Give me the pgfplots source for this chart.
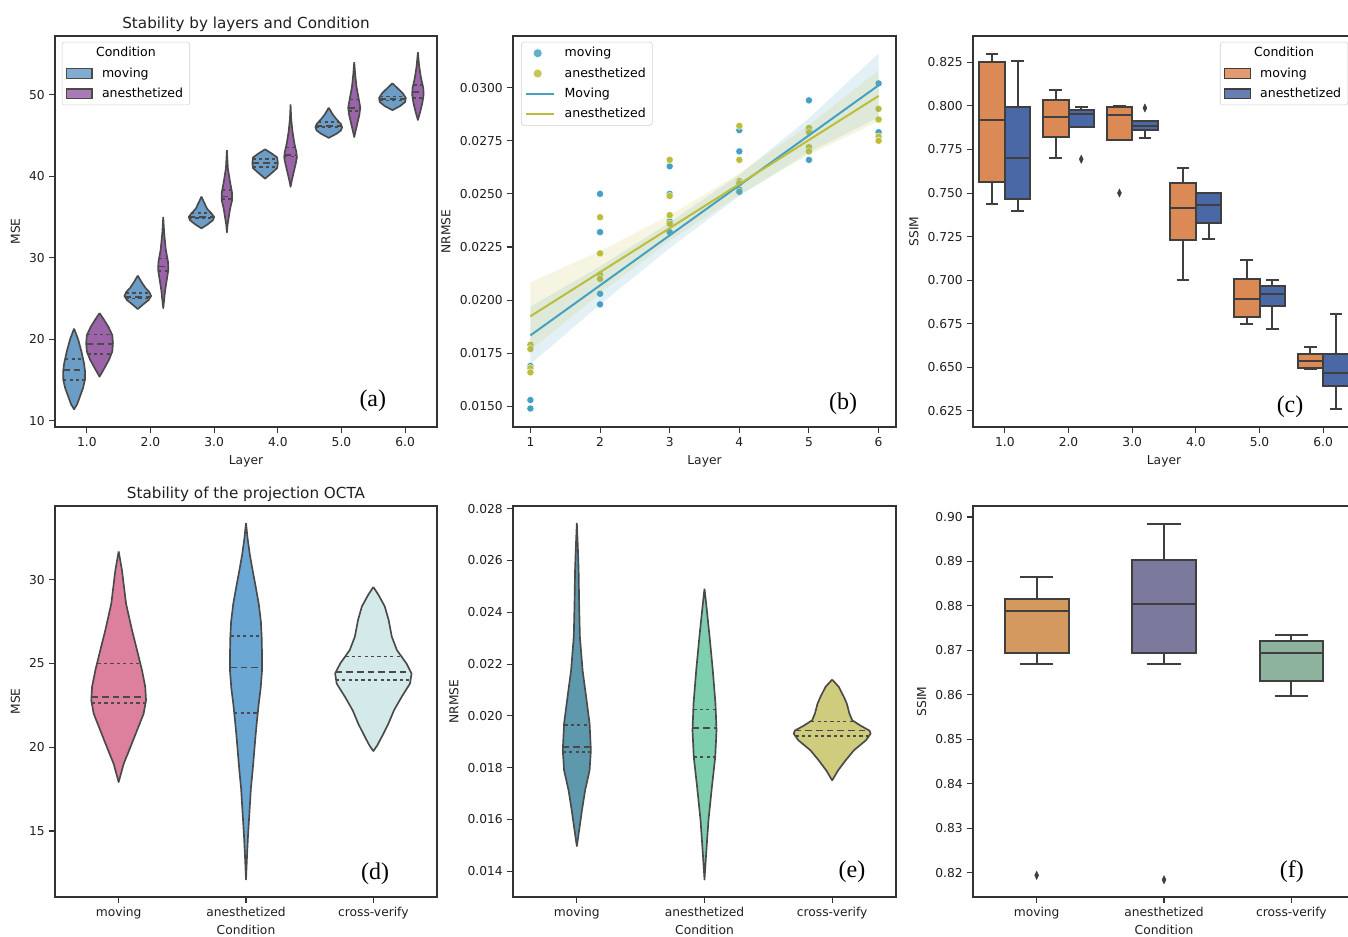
\documentclass[border=0pt]{standalone}
\usepackage{pgfplots}
\pgfplotsset{compat=1.18}
\usepgfplotslibrary{statistics}
\usepackage{fontspec}
\setmainfont{DejaVu Sans}
\newfontfamily\panelfont{Liberation Serif}

\definecolor{vmov}{HTML}{6C9DC7}
\definecolor{vane}{HTML}{9B63A8}
\definecolor{vedge}{HTML}{4A4A4A}
\definecolor{bblue}{HTML}{45A1C3}
\definecolor{bolive}{HTML}{BCBD3A}
\definecolor{corange}{HTML}{DC8A55}
\definecolor{cblue}{HTML}{4B68A6}
\definecolor{bedge}{HTML}{3F3F3F}
\definecolor{dpink}{HTML}{DC809D}
\definecolor{dblue}{HTML}{6BA7D4}
\definecolor{dpale}{HTML}{D4E9E9}
\definecolor{eteal}{HTML}{5E98AC}
\definecolor{emint}{HTML}{7DCFAF}
\definecolor{eolive}{HTML}{CFCC7D}
\definecolor{forange}{HTML}{D4995F}
\definecolor{fpurple}{HTML}{7B799C}
\definecolor{fgreen}{HTML}{8DB39E}

% violin: #1 centre, #2 style, #3 list of value/half-width (top to bottom)
\newcommand\violin[3]{%
  \gdef\vR{}\gdef\vL{}%
  \foreach \vv/\ww in {#3}{%
    \pgfmathsetmacro\vxr{#1+\ww}%
    \pgfmathsetmacro\vxl{#1-\ww}%
    \xdef\vR{\vR(\vxr,\vv)}%
    \xdef\vL{(\vxl,\vv)\vL}%
  }%
  \edef\tmp{\noexpand\addplot[\unexpanded{#2},forget plot] coordinates {\vR\vL};}\tmp
}
% quartile line: #1 centre, #2 value, #3 half-width, #4 style
\newcommand\qline[4]{%
  \pgfmathsetmacro\vxr{#1+#3}\pgfmathsetmacro\vxl{#1-#3}%
  \edef\tmp{\noexpand\addplot[\unexpanded{#4},forget plot] coordinates {(\vxl,#2) (\vxr,#2)};}\tmp
}
% box: pos, lower whisker, q1, median, q3, upper whisker, fill, box extend, whisker extend
\newcommand\bx[9]{%
  \addplot[boxplot prepared={draw position=#1, lower whisker=#2, lower quartile=#3,
    median=#4, upper quartile=#5, upper whisker=#6, box extend=#8, whisker extend=#9,
    every box/.style={draw=bedge, fill=#7, line width=1.5pt},
    every whisker/.style={draw=bedge, line width=1.5pt},
    every median/.style={draw=bedge, line width=1.5pt}},
    fill=#7, draw=bedge, line width=1.5pt, forget plot] coordinates {};
}
\newcommand\patch[2]{\addlegendimage{legend image code/.code={\draw[sharp corners,fill=#1,draw=#2,line width=0.9pt] (0pt,-3.6pt) rectangle (19pt,3.6pt);}}}

\tikzset{lab/.style={font=\panelfont\fontsize{18}{20}\selectfont}}
\pgfplotsset{
  panel/.style={
    scale only axis, width=286.5pt, height=293.25pt, anchor=south west,
    axis line style={draw=black!80, line width=0.8pt},
    tick align=outside, tick pos=left, major tick length=4.2pt,
    every tick/.style={draw=black!80, line width=0.8pt},
    ticklabel style={font=\fontsize{9.2}{11}\selectfont, text=black!88},
    label style={font=\fontsize{9.2}{11}\selectfont, text=black!88},
    title style={font=\fontsize{11.4}{13}\selectfont, text=black!88, yshift=-6pt},
    /pgf/number format/assume math mode=true,
    scaled ticks=false, clip mode=individual,
    legend cell align=left,
    legend style={font=\fontsize{9.4}{11}\selectfont, draw=black!18, rounded corners=2pt,
      fill=white, fill opacity=0.85, text opacity=1, inner xsep=3pt, inner ysep=2pt,
      row sep=2.6pt, column sep=5pt},
  },
  vstyle/.style={fill=#1, draw=vedge, line width=1.25pt, line join=round},
  qd/.style={draw=vedge, line width=1.2pt, dash pattern=on 2.4pt off 2.4pt},
  md/.style={draw=vedge, line width=1.2pt, dash pattern=on 5pt off 3pt},
  linelegend/.style={legend image code/.code={\draw[sharp corners,##1] (0pt,0pt) -- (21pt,0pt);}},
}

\begin{document}
\begin{tikzpicture}
\path[use as bounding box] (0,0) rectangle (1011pt,702.75pt);
\clip (0,0) rectangle (1011pt,702.75pt);

% ---------------- (a)
\begin{axis}[panel, at={(41.25pt,382.5pt)}, xmin=-0.5, xmax=5.5, ymin=9.23, ymax=57.2,
  xtick={0,1,2,3,4,5}, xticklabels={1.0,2.0,3.0,4.0,5.0,6.0}, ytick={10,20,30,40,50},
  xlabel={Layer}, ylabel={MSE}, title={Stability by layers and Condition},
  legend style={at={(0.018,0.985)}, anchor=north west}]
\addlegendimage{empty legend}\addlegendentry{\hspace{-4.5pt}Condition}
\patch{vmov}{vedge}\addlegendentry{moving}
\patch{vane}{vedge}\addlegendentry{anesthetized}

\violin{-0.2}{vstyle=vmov}{21.3/0, 20/0.063, 18.5/0.115, 17/0.157, 16/0.173, 15/0.17, 14/0.14, 13/0.094, 12/0.047, 11.4/0}
\qline{-0.2}{17.6}{0.14}{qd}\qline{-0.2}{16.2}{0.172}{md}\qline{-0.2}{15.0}{0.17}{qd}
\violin{0.2}{vstyle=vane}{23.2/0, 22.5/0.06, 21.5/0.14, 20.5/0.2, 19.5/0.21, 18.5/0.2, 17.5/0.15, 16.5/0.08, 15.4/0}
\qline{0.2}{20.6}{0.195}{qd}\qline{0.2}{19.4}{0.21}{md}\qline{0.2}{18.2}{0.19}{qd}

\violin{0.8}{vstyle=vmov}{27.8/0, 27/0.06, 26.3/0.12, 25.8/0.18, 25.3/0.21, 24.8/0.17, 24.3/0.09, 23.7/0}
\qline{0.8}{25.7}{0.185}{qd}\qline{0.8}{25.2}{0.205}{md}\qline{0.8}{25.0}{0.19}{qd}
\violin{1.2}{vstyle=vane}{35/0, 33/0.015, 31/0.04, 29.5/0.075, 28.5/0.08, 27.5/0.06, 26/0.03, 24.5/0.01, 23.8/0}
\qline{1.2}{29.9}{0.068}{qd}\qline{1.2}{28.9}{0.08}{md}\qline{1.2}{28.4}{0.079}{qd}

\violin{1.8}{vstyle=vmov}{37.5/0, 36.8/0.04, 36/0.09, 35.4/0.16, 35/0.2, 34.6/0.18, 34.1/0.1, 33.6/0}
\qline{1.8}{35.45}{0.16}{qd}\qline{1.8}{35.0}{0.2}{md}\qline{1.8}{34.9}{0.195}{qd}
\violin{2.2}{vstyle=vane}{43.2/0, 41/0.015, 39.5/0.045, 38/0.08, 37/0.08, 36/0.05, 35/0.03, 34/0.01, 33.1/0}
\qline{2.2}{38.3}{0.073}{qd}\qline{2.2}{37.5}{0.08}{md}\qline{2.2}{37.2}{0.08}{qd}

\violin{2.8}{vstyle=vmov}{43.3/0, 42.8/0.1, 42.3/0.19, 41.6/0.2, 41/0.19, 40.5/0.12, 39.7/0}
\qline{2.8}{42.1}{0.195}{qd}\qline{2.8}{41.6}{0.2}{md}\qline{2.8}{41.1}{0.19}{qd}
\violin{3.2}{vstyle=vane}{48.8/0, 47/0.01, 45.5/0.03, 44/0.06, 43/0.09, 42.3/0.1, 41.5/0.08, 40.5/0.05, 39.5/0.02, 38.7/0}
\qline{3.2}{43.5}{0.075}{qd}\qline{3.2}{42.6}{0.096}{md}\qline{3.2}{42.4}{0.1}{qd}

\violin{3.8}{vstyle=vmov}{48.4/0, 47.6/0.06, 47/0.12, 46.4/0.19, 46/0.21, 45.6/0.19, 45.2/0.12, 44.7/0}
\qline{3.8}{46.65}{0.165}{qd}\qline{3.8}{46.15}{0.205}{md}\qline{3.8}{46.0}{0.21}{qd}
\violin{4.2}{vstyle=vane}{54/0, 52.5/0.015, 51/0.035, 49.5/0.07, 48.4/0.095, 47.5/0.08, 46.5/0.05, 45.5/0.02, 44.8/0}
\qline{4.2}{49.4}{0.072}{qd}\qline{4.2}{48.4}{0.095}{md}\qline{4.2}{48.0}{0.09}{qd}

\violin{4.8}{vstyle=vmov}{51.4/0, 50.8/0.08, 50.2/0.16, 49.6/0.21, 49.1/0.2, 48.6/0.12, 48.1/0}
\qline{4.8}{49.8}{0.195}{qd}\qline{4.8}{49.5}{0.21}{md}\qline{4.8}{49.3}{0.205}{qd}
\violin{5.2}{vstyle=vane}{55.2/0, 53.5/0.02, 52/0.05, 50.8/0.085, 50/0.09, 49/0.07, 48/0.04, 46.9/0}
\qline{5.2}{51.2}{0.072}{qd}\qline{5.2}{50.3}{0.088}{md}\qline{5.2}{49.6}{0.083}{qd}

\node[lab] at (rel axis cs:0.832,0.066) {(a)};
\end{axis}

% ---------------- (b)
\begin{axis}[panel, width=287.25pt, at={(384.75pt,382.5pt)}, xmin=0.75, xmax=6.25, ymin=0.01403, ymax=0.03243,
  xtick={1,2,3,4,5,6},
  ytick={0.015,0.0175,0.02,0.0225,0.025,0.0275,0.03},
  yticklabels={0.0150,0.0175,0.0200,0.0225,0.0250,0.0275,0.0300},
  xlabel={Layer}, ylabel={NRMSE},
  legend style={at={(0.021,0.985)}, anchor=north west}]
\addlegendimage{only marks, mark=*, mark size=3.3pt, color=bblue, mark options={draw=white, line width=0.3pt}}\addlegendentry{moving}
\addlegendimage{only marks, mark=*, mark size=3.3pt, color=bolive, mark options={draw=white, line width=0.3pt}}\addlegendentry{anesthetized}
\addlegendimage{linelegend, color=bblue, line width=1.5pt}\addlegendentry{Moving}
\addlegendimage{linelegend, color=bolive, line width=1.5pt}\addlegendentry{anesthetized}

\addplot[only marks, mark=*, mark size=2.7pt, color=bblue, mark options={draw=white, line width=0.3pt}, forget plot] coordinates {
(1,0.0149) (1,0.0153) (1,0.0169)
(2,0.0250) (2,0.0232) (2,0.0203) (2,0.0198)
(3,0.0263) (3,0.0250) (3,0.0237) (3,0.0232)
(4,0.0280) (4,0.0270) (4,0.0252) (4,0.0251)
(5,0.0294) (5,0.0280) (5,0.0266)
(6,0.0302) (6,0.0279)};
\addplot[only marks, mark=*, mark size=2.7pt, color=bolive, mark options={draw=white, line width=0.3pt}, forget plot] coordinates {
(1,0.0179) (1,0.0177) (1,0.0168) (1,0.0166)
(2,0.0239) (2,0.0222) (2,0.0212) (2,0.0210)
(3,0.0266) (3,0.0249) (3,0.0240) (3,0.0236)
(4,0.0282) (4,0.0266) (4,0.0256) (4,0.0255)
(5,0.0281) (5,0.0279) (5,0.0272) (5,0.0270)
(6,0.0290) (6,0.0285) (6,0.0277) (6,0.0275)};

% confidence bands: upper edge left to right, lower edge right to left
\addplot[fill=bblue, fill opacity=0.15, draw=none, forget plot] coordinates {
(1,0.01969) (2,0.02159) (3,0.02365) (4,0.02590) (5,0.02856) (6,0.03161)
(6,0.02861) (5,0.02696) (4,0.02490) (3,0.02245) (2,0.01979) (1,0.01699)};
\addplot[fill=bolive, fill opacity=0.15, draw=none, forget plot] coordinates {
(1,0.02084) (2,0.02231) (3,0.02399) (4,0.02596) (5,0.02824) (6,0.03081)
(6,0.02841) (5,0.02684) (4,0.02496) (3,0.02279) (2,0.02031) (1,0.01764)};
\addplot[color=bblue, line width=1.5pt, forget plot] coordinates {(1,0.01834) (6,0.03011)};
\addplot[color=bolive, line width=1.5pt, forget plot] coordinates {(1,0.01924) (6,0.02961)};

\node[lab] at (rel axis cs:0.862,0.059) {(b)};
\end{axis}

% ---------------- (c)
\begin{axis}[panel, at={(729.75pt,382.5pt)}, xmin=-0.5, xmax=5.5, ymin=0.6158, ymax=0.8401,
  xtick={0,1,2,3,4,5}, xticklabels={1.0,2.0,3.0,4.0,5.0,6.0},
  ytick={0.625,0.65,0.675,0.7,0.725,0.75,0.775,0.8,0.825},
  yticklabels={0.625,0.650,0.675,0.700,0.725,0.750,0.775,0.800,0.825},
  xlabel={Layer}, ylabel={SSIM}, boxplot/draw direction=y,
  legend style={at={(0.982,0.985)}, anchor=north east}]
\addlegendimage{empty legend}\addlegendentry{\hspace{-4.5pt}Condition}
\patch{corange}{bedge}\addlegendentry{moving}
\patch{cblue}{bedge}\addlegendentry{anesthetized}

\bx{-0.2}{0.7435}{0.7564}{0.7917}{0.8250}{0.8300}{corange}{0.4}{0.2}
\bx{0.2}{0.7397}{0.7466}{0.7703}{0.7994}{0.8258}{cblue}{0.4}{0.2}
\bx{0.8}{0.7703}{0.7820}{0.7938}{0.8034}{0.8093}{corange}{0.4}{0.2}
\bx{1.2}{0.7877}{0.7877}{0.7956}{0.7975}{0.7994}{cblue}{0.4}{0.2}
\bx{1.8}{0.7805}{0.7805}{0.7950}{0.7994}{0.8001}{corange}{0.4}{0.2}
\bx{2.2}{0.7816}{0.7860}{0.7883}{0.7912}{0.7912}{cblue}{0.4}{0.2}
\bx{2.8}{0.7004}{0.7229}{0.7413}{0.7558}{0.7644}{corange}{0.4}{0.2}
\bx{3.2}{0.7237}{0.7328}{0.7430}{0.7500}{0.7500}{cblue}{0.4}{0.2}
\bx{3.8}{0.6747}{0.6789}{0.6890}{0.7007}{0.7114}{corange}{0.4}{0.2}
\bx{4.2}{0.6722}{0.6852}{0.6921}{0.6965}{0.7001}{cblue}{0.4}{0.2}
\bx{4.8}{0.6489}{0.6499}{0.6537}{0.6575}{0.6617}{corange}{0.4}{0.2}
\bx{5.2}{0.6260}{0.6391}{0.6468}{0.6575}{0.6804}{cblue}{0.4}{0.2}
\addplot[only marks, mark=diamond*, mark size=3pt, mark options={fill=bedge, draw=bedge, xscale=0.65}, forget plot]
  coordinates {(1.2,0.7694) (1.8,0.7500) (2.2,0.7988)};

\node[lab] at (rel axis cs:0.83,0.051) {(c)};
\end{axis}

% ---------------- (d)
\begin{axis}[panel, at={(41.25pt,30pt)}, xmin=-0.5, xmax=2.5, ymin=11.06, ymax=34.40,
  xtick={0,1,2}, xticklabels={moving,anesthetized,cross-verify}, ytick={15,20,25,30},
  xlabel={Condition}, xlabel style={yshift=2.5pt}, ylabel={MSE}, title={Stability of the projection OCTA}]
\violin{0}{vstyle=dpink}{31.69/0, 30.56/0.026, 28.57/0.058, 26.98/0.105, 25.8/0.144, 24.6/0.183, 23.6/0.209, 22.8/0.215, 22.0/0.196, 21.0/0.144, 20.0/0.092, 19.0/0.039, 17.92/0}
\qline{0}{25.0}{0.165}{qd}\qline{0}{23.0}{0.214}{md}\qline{0}{22.64}{0.212}{qd}
\violin{1}{vstyle=dblue}{33.38/0, 32.5/0.012, 31.5/0.03, 30.56/0.052, 29.5/0.078, 28.57/0.1, 27.5/0.117, 26.58/0.123, 25.5/0.126, 24.6/0.126, 23.5/0.115, 22.6/0.1, 21.5/0.085, 20.6/0.074, 19.5/0.062, 18.6/0.052, 17.5/0.038, 16.6/0.031, 15.5/0.022, 14.6/0.015, 13.5/0.008, 12.1/0}
\qline{1}{26.64}{0.123}{qd}\qline{1}{24.75}{0.126}{md}\qline{1}{22.06}{0.093}{qd}
\violin{2}{vstyle=dpale}{29.56/0, 29.1/0.04, 28.4/0.09, 27.6/0.12, 26.6/0.145, 25.8/0.185, 25.0/0.26, 24.4/0.3, 23.8/0.288, 23.0/0.222, 22.2/0.162, 21.4/0.118, 20.6/0.065, 20.1/0.03, 19.77/0}
\qline{2}{25.42}{0.22}{qd}\qline{2}{24.49}{0.297}{md}\qline{2}{24.0}{0.295}{qd}

\node[lab] at (rel axis cs:0.838,0.059) {(d)};
\end{axis}

% ---------------- (e)
\begin{axis}[panel, width=287.25pt, at={(384.75pt,30pt)}, xmin=-0.5, xmax=2.5, ymin=0.01301, ymax=0.02810,
  xtick={0,1,2}, xticklabels={moving,anesthetized,cross-verify},
  ytick={0.014,0.016,0.018,0.02,0.022,0.024,0.026,0.028},
  yticklabels={0.014,0.016,0.018,0.020,0.022,0.024,0.026,0.028},
  xlabel={Condition}, xlabel style={yshift=2.5pt}, ylabel={NRMSE}]
\violin{0}{vstyle=eteal}{0.02745/0, 0.0265/0.008, 0.02562/0.014, 0.02433/0.018, 0.02305/0.024, 0.02176/0.045, 0.02073/0.073, 0.0197/0.1, 0.01867/0.11, 0.0179/0.1, 0.01713/0.065, 0.01635/0.04, 0.01558/0.018, 0.01497/0}
\qline{0}{0.01964}{0.098}{qd}\qline{0}{0.0188}{0.11}{md}\qline{0}{0.01861}{0.11}{qd}
\violin{1}{vstyle=emint}{0.02491/0, 0.02433/0.013, 0.02305/0.04, 0.02176/0.065, 0.02047/0.086, 0.01944/0.094, 0.01841/0.084, 0.01726/0.058, 0.01597/0.031, 0.01468/0.013, 0.01368/0}
\qline{1}{0.02025}{0.087}{qd}\qline{1}{0.01953}{0.094}{md}\qline{1}{0.01841}{0.084}{qd}
\violin{2}{vstyle=eolive}{0.0214/0, 0.02112/0.052, 0.02073/0.092, 0.02047/0.115, 0.02009/0.135, 0.01983/0.157, 0.01963/0.22, 0.01943/0.293, 0.01931/0.301, 0.01906/0.265, 0.01867/0.17, 0.01828/0.105, 0.0179/0.047, 0.01751/0}
\qline{2}{0.01978}{0.165}{qd}\qline{2}{0.01943}{0.293}{md}\qline{2}{0.01922}{0.288}{qd}

\node[lab] at (rel axis cs:0.885,0.064) {(e)};
\end{axis}

% ---------------- (f)
\begin{axis}[panel, at={(729.75pt,30pt)}, xmin=-0.5, xmax=2.5, ymin=0.81453, ymax=0.90247,
  xtick={0,1,2}, xticklabels={moving,anesthetized,cross-verify},
  ytick={0.82,0.83,0.84,0.85,0.86,0.87,0.88,0.89,0.90},
  yticklabels={0.82,0.83,0.84,0.85,0.86,0.87,0.88,0.89,0.90},
  xlabel={Condition}, xlabel style={yshift=2.5pt}, ylabel={SSIM}, boxplot/draw direction=y]
\bx{0}{0.8669}{0.8695}{0.8789}{0.8816}{0.8864}{forange}{0.5}{0.26}
\bx{1}{0.8669}{0.8693}{0.8805}{0.8903}{0.8985}{fpurple}{0.5}{0.26}
\bx{2}{0.8597}{0.8630}{0.8694}{0.8721}{0.8735}{fgreen}{0.5}{0.26}
\addplot[only marks, mark=diamond*, mark size=3pt, mark options={fill=bedge, draw=bedge, xscale=0.65}, forget plot]
  coordinates {(0,0.8194) (1,0.8184)};

\node[lab] at (rel axis cs:0.835,0.064) {(f)};
\end{axis}
\end{tikzpicture}
\end{document}
